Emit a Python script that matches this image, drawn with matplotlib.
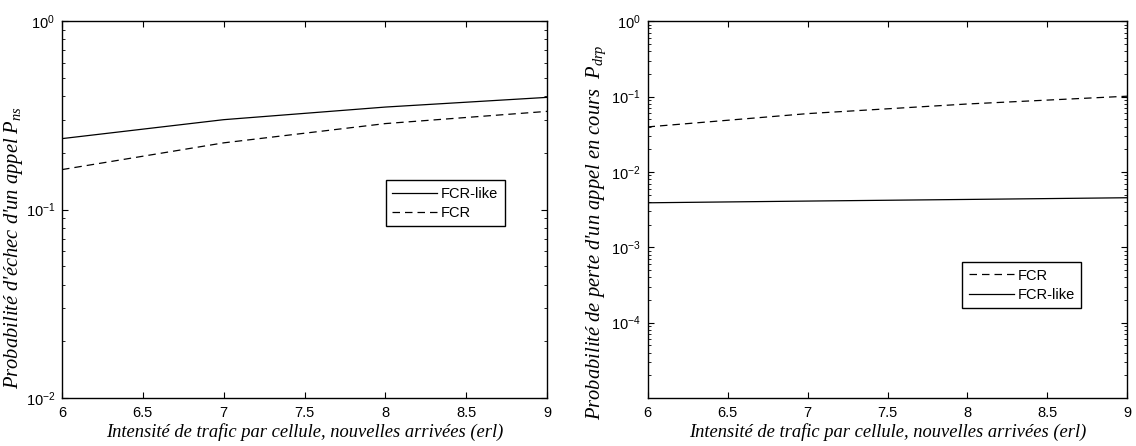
import matplotlib
matplotlib.use("Agg")
import matplotlib.pyplot as plt
from matplotlib.ticker import LogLocator, NullFormatter

plt.rcParams['font.family'] = ['Liberation Sans', 'DejaVu Sans']
plt.rcParams['mathtext.fontset'] = 'custom'
plt.rcParams['mathtext.it'] = 'Liberation Serif:italic'
plt.rcParams['mathtext.rm'] = 'Liberation Serif'

# donnees
traffic = [6, 7, 8, 9]
pns_fcr_like = [0.238, 0.30, 0.35, 0.394]
pns_fcr = [0.163, 0.226, 0.286, 0.332]
pdrp_fcr = [0.0395, 0.0593, 0.0796, 0.101]
pdrp_fcr_like = [0.00389, 0.0041, 0.00431, 0.00454]

xticks = [6, 6.5, 7, 7.5, 8, 8.5, 9]
xlabel = "Intensité de trafic par cellule, nouvelles arrivées (erl)"
xlabel_font = dict(family="Liberation Serif", style="italic", size=13.3)
ylabel_font = dict(family="Liberation Serif", style="italic", size=14.8)

fig = plt.figure(figsize=(11.36, 4.46), dpi=100)
ax1 = fig.add_axes([0.0546, 0.1076, 0.427, 0.845])
ax2 = fig.add_axes([0.570, 0.1076, 0.4225, 0.845])

ax1.semilogy(traffic, pns_fcr_like, "k-", lw=0.9, label="FCR-like")
ax1.semilogy(traffic, pns_fcr, "k--", lw=0.9, dashes=(6, 4), label="FCR")
ax1.set_ylim(1e-2, 1)
ax1.set_ylabel("Probabilité d'échec d'un appel $P_{ns}$", fontdict=ylabel_font)
ax1.yaxis.set_label_coords(-0.076, 0.40)
leg1 = ax1.legend(loc="upper right", bbox_to_anchor=(0.913, 0.578), fontsize=10.5,
                  fancybox=False, edgecolor="black", framealpha=1, borderaxespad=0,
                  handlelength=3.1, handletextpad=0.25, borderpad=0.45, labelspacing=0.35)
leg1.get_frame().set_linewidth(1.0)

ax2.semilogy(traffic, pdrp_fcr, "k--", lw=0.9, dashes=(6, 4), label="FCR")
ax2.semilogy(traffic, pdrp_fcr_like, "k-", lw=0.9, label="FCR-like")
ax2.set_ylim(1e-5, 1)
ax2.set_yticks([1e-4, 1e-3, 1e-2, 1e-1, 1])
ax2.set_ylabel("Probabilité de perte d'un appel en cours  $P_{drp}$", fontdict=ylabel_font)
ax2.yaxis.set_label_coords(-0.082, 0.44)
leg2 = ax2.legend(loc="upper right", bbox_to_anchor=(0.904, 0.361), fontsize=10.5,
                  fancybox=False, edgecolor="black", framealpha=1, borderaxespad=0,
                  handlelength=3.1, handletextpad=0.25, borderpad=0.45, labelspacing=0.35)
leg2.get_frame().set_linewidth(1.0)

for ax in (ax1, ax2):
    ax.set_xlim(6, 9)
    ax.set_xticks(xticks)
    ax.set_xticklabels([f"{t:g}" for t in xticks])
    ax.yaxis.set_minor_locator(LogLocator(base=10, subs=range(2, 10), numticks=20))
    ax.yaxis.set_minor_formatter(NullFormatter())
    ax.tick_params(which="both", direction="in", top=True, right=True, labelsize=10.5)
    ax.tick_params(which="major", length=4, pad=5)
    ax.tick_params(which="minor", length=2)
    ax.tick_params(axis="x", pad=6)
    ax.set_xlabel(xlabel, fontdict=xlabel_font, labelpad=2)
    for s in ax.spines.values():
        s.set_linewidth(1.0)

fig.savefig("out.png", dpi=100)
